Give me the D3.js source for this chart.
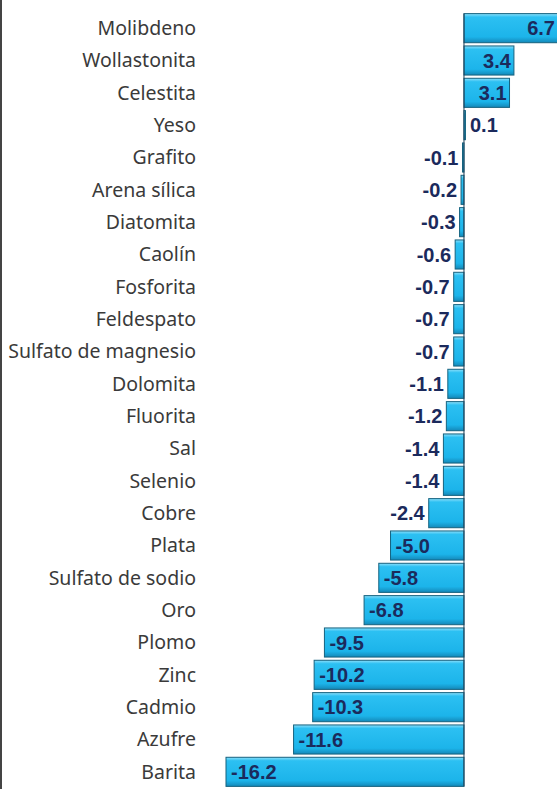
<!DOCTYPE html>
<meta charset="utf-8">
<script src="https://d3js.org/d3.v7.min.js"></script>
<style>
  body { margin: 0; background: #fff; }
</style>
<div id="my_dataviz"></div>
<script>

var minerales = ["Molibdeno", "Wollastonita", "Celestita", "Yeso", "Grafito", "Arena sílica",
  "Diatomita", "Caolín", "Fosforita", "Feldespato", "Sulfato de magnesio", "Dolomita",
  "Fluorita", "Sal", "Selenio", "Cobre", "Plata", "Sulfato de sodio", "Oro", "Plomo",
  "Zinc", "Cadmio", "Azufre", "Barita"];
var variacion = [6.7, 3.4, 3.1, 0.1, -0.1, -0.2, -0.3, -0.6, -0.7, -0.7, -0.7, -1.1,
  -1.2, -1.4, -1.4, -2.4, -5.0, -5.8, -6.8, -9.5, -10.2, -10.3, -11.6, -16.2];

var W = 557, H = 789;
var data = minerales.map(function(m, i) { return { name: m, value: variacion[i] }; });

var svg = d3.select("#my_dataviz")
  .append("svg")
    .attr("width", W)
    .attr("height", H);

// bevel gradient for the bars
var grad = svg.append("defs").append("linearGradient")
    .attr("id", "bevel")
    .attr("x1", 0).attr("y1", 0).attr("x2", 0).attr("y2", 1);
grad.append("stop").attr("offset", "0%").attr("stop-color", "#8ee0fb");
grad.append("stop").attr("offset", "12%").attr("stop-color", "#2cc0f2");
grad.append("stop").attr("offset", "80%").attr("stop-color", "#1cb4ea");
grad.append("stop").attr("offset", "100%").attr("stop-color", "#1488b8");

// left frame line
svg.append("line")
    .attr("x1", 1).attr("x2", 1).attr("y1", 0).attr("y2", H)
    .style("stroke", "#444").style("stroke-width", 2);

var x = d3.scaleLinear()
    .domain([-16.2, 6.7])
    .range([226, 562.4]);

var y = d3.scaleBand()
    .domain(minerales)
    .range([12, 788])
    .paddingInner(0.1)
    .paddingOuter(0.05);

// category labels
svg.append("g")
  .selectAll("text")
  .data(data)
  .enter()
  .append("text")
    .attr("x", 196)
    .attr("y", function(d) { return y(d.name) + y.bandwidth() / 2; })
    .attr("dy", "0.35em")
    .attr("text-anchor", "end")
    .style("font-family", "'Noto Sans', sans-serif")
    .style("font-size", "19.5px")
    .style("fill", "#3a3a3a")
    .text(function(d) { return d.name; });

// bars
svg.append("g")
  .selectAll("rect")
  .data(data)
  .enter()
  .append("rect")
    .attr("x", function(d) { return x(Math.min(0, d.value)); })
    .attr("y", function(d) { return y(d.name); })
    .attr("width", function(d) { return Math.abs(x(d.value) - x(0)); })
    .attr("height", y.bandwidth())
    .style("fill", "url(#bevel)")
    .style("stroke", "#15627f")
    .style("stroke-width", 1);

// zero line
svg.append("line")
    .attr("x1", x(0)).attr("x2", x(0))
    .attr("y1", y(minerales[0])).attr("y2", y(minerales[minerales.length - 1]) + y.bandwidth())
    .style("stroke", "#1f3f55")
    .style("stroke-width", 1);

// value labels
svg.append("g")
  .selectAll("text")
  .data(data)
  .enter()
  .append("text")
    .attr("x", function(d) {
      if (d.value > 1) return Math.min(x(d.value) - 3, W - 2);
      if (d.value >= 0) return x(0) + 6;
      if (d.value > -3) return x(d.value) - 4;
      return x(d.value) + 5;
    })
    .attr("y", function(d) { return y(d.name) + y.bandwidth() / 2; })
    .attr("dy", "0.36em")
    .attr("text-anchor", function(d) {
      if (d.value > 1) return "end";
      if (d.value >= 0) return "start";
      if (d.value > -3) return "end";
      return "start";
    })
    .style("font-family", "'Liberation Sans Narrow', 'Liberation Sans', sans-serif")
    .style("font-weight", "bold")
    .style("font-size", "20px")
    .style("fill", "#1b2a5c")
    .text(function(d) { return d.value.toFixed(1); });

</script>
